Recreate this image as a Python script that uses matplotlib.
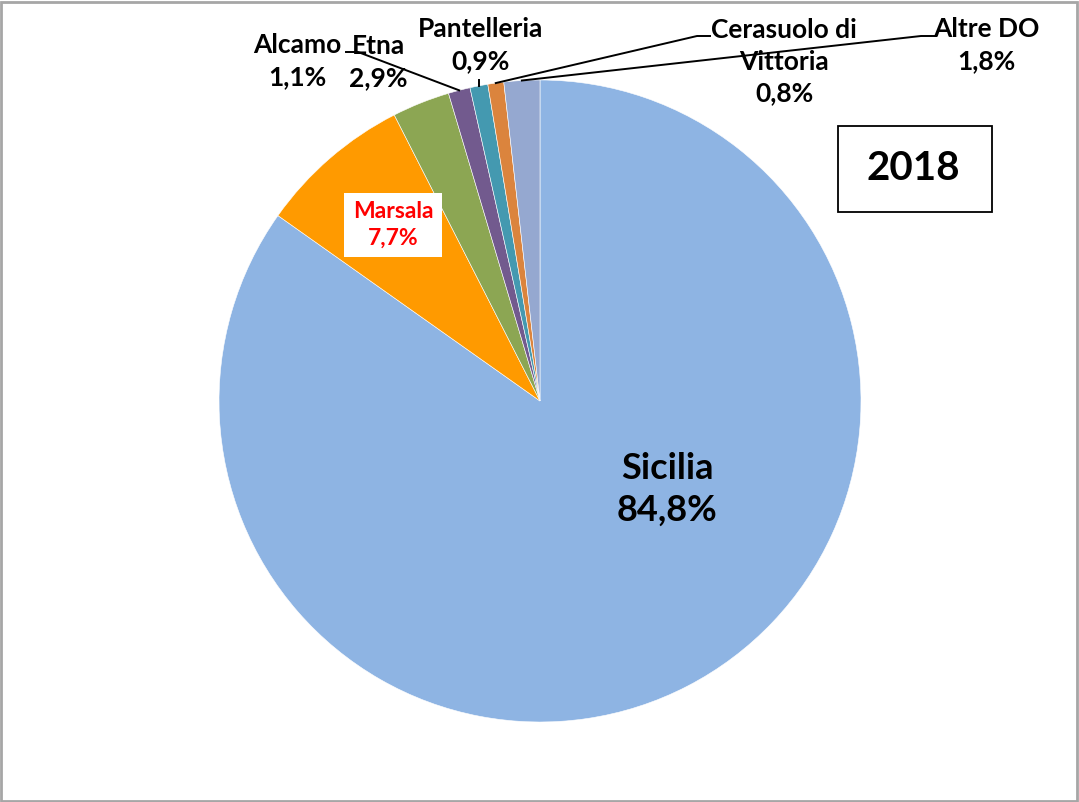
import matplotlib
matplotlib.use("Agg")
import matplotlib.pyplot as plt
import numpy as np
from matplotlib.patches import Rectangle

categories = ["Sicilia", "Marsala", "Etna", "Alcamo", "Pantelleria", "Cerasuolo di\nVittoria", "Altre DO"]
values = [84.8, 7.7, 2.9, 1.1, 0.9, 0.8, 1.8]
colors = ["#8EB4E3", "#FF9A00", "#8CA653", "#725A8E", "#4499B0", "#DB843D", "#95A8D0"]
year = "2018"

plt.rcParams['font.family'] = ['Lato', 'DejaVu Sans']

W, H = 1079, 802
fig = plt.figure(figsize=(W / 100, H / 100), dpi=100)
ax = fig.add_axes([0, 0, 1, 1])

cx, cy, R = 540, H - 401, 321
wedges, _ = ax.pie(values, colors=colors, startangle=90, counterclock=False,
                   center=(cx, cy), radius=R, frame=True,
                   wedgeprops=dict(edgecolor='white', linewidth=0.4))
ax.set_xlim(0, W)
ax.set_ylim(0, H)
ax.set_aspect('equal')
ax.axis('off')

def fmt(i):
    return f"{categories[i]}\n{values[i]:.1f}%".replace('.', ',')

def edge_point(i, frac=0.5):
    w = wedges[i]
    a = np.deg2rad(w.theta1 + (w.theta2 - w.theta1) * frac)
    return cx + R * np.cos(a), cy + R * np.sin(a)

# label positions (pixel layout, y from top): x, y, fontsize, color, linespacing
label_pos = {
    0: (667, 489, 26, 'black', 1.32),
    1: (393, 225, 16.5, 'red', 1.32),
    2: (378, 62, 19, 'black', 1.38),
    3: (297, 61, 19, 'black', 1.38),
    4: (481, 45, 19, 'black', 1.38),
    5: (784, 62, 19, 'black', 1.38),
    6: (986, 45, 19, 'black', 1.38),
}
for i, (x, y, fs, col, ls) in label_pos.items():
    kw = {}
    if i == 1:
        kw['bbox'] = dict(boxstyle='square,pad=0.38', facecolor='white', edgecolor='none')
    ax.text(x, H - y, fmt(i), ha='center', va='center', fontsize=fs,
            fontweight='bold', color=col, linespacing=ls, **kw)

# leader lines
lw = 1.4
px, py = edge_point(3)
ax.plot([346, 358, px], [H - 52, H - 52, py], color='black', lw=lw)
px, py = edge_point(4)
ax.plot([px, px], [H - 80, py], color='black', lw=lw)
px, py = edge_point(5)
ax.plot([710, 697, px], [H - 36, H - 36, py], color='black', lw=lw)
px, py = edge_point(6)
ax.plot([935, 921, px], [H - 36, H - 36, py], color='black', lw=lw)

# year box
ax.add_patch(Rectangle((838, H - 212), 154, 86, facecolor='white', edgecolor='black', lw=1.3))
ax.text(913, H - 169, year, ha='center', va='center', fontsize=29, fontweight='bold')

# figure border
fig.patches.append(Rectangle((0.001, 0.001), 0.997, 0.997, transform=fig.transFigure,
                             fill=False, edgecolor='#A6A6A6', lw=2))

fig.savefig("out.png", dpi=100)
